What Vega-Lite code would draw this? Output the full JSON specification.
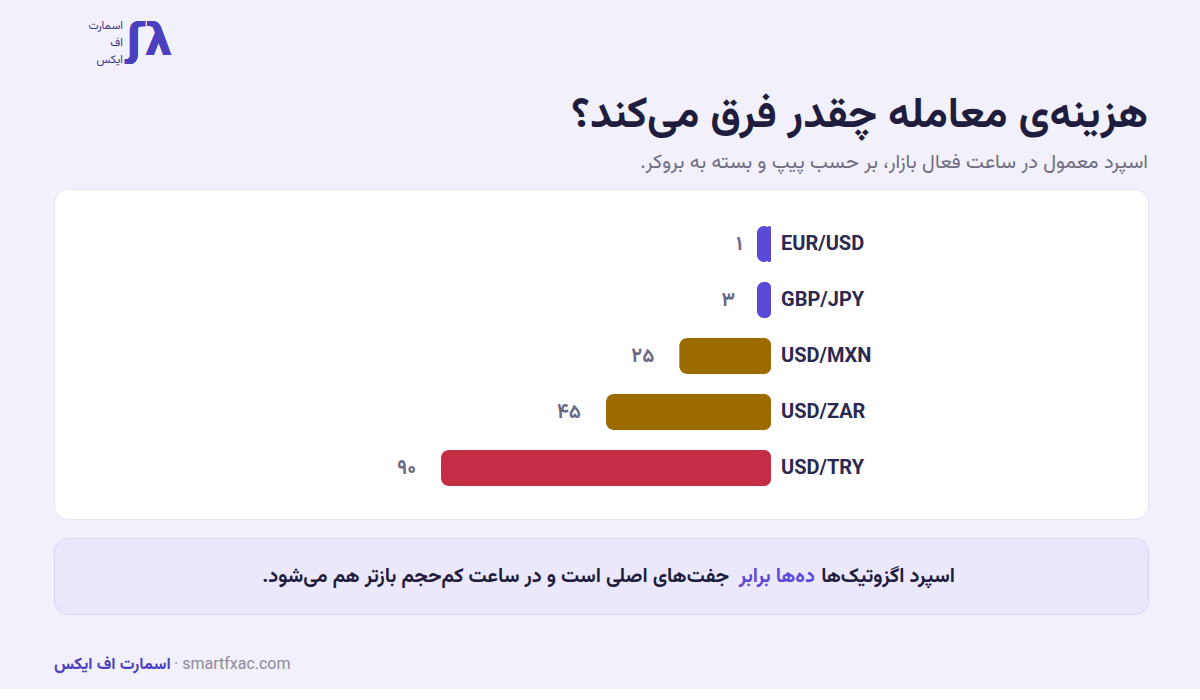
{
  "$schema": "https://vega.github.io/schema/vega-lite/v6.json",
  "background": "#f2f0fb",
  "padding": {"left": 53, "right": 53, "top": 18, "bottom": 0},
  "config": {"view": {"stroke": null}, "font": "Roboto", "concat": {"spacing": 24}},
  "datasets": {
    "spreads": [
      {"pair": "EUR/USD", "pips": 1, "label": "۱", "group": "major"},
      {"pair": "GBP/JPY", "pips": 3, "label": "۳", "group": "major"},
      {"pair": "USD/MXN", "pips": 25, "label": "۲۵", "group": "exotic"},
      {"pair": "USD/ZAR", "pips": 45, "label": "۴۵", "group": "exotic"},
      {"pair": "USD/TRY", "pips": 90, "label": "۹۰", "group": "extreme"}
    ],
    "callout": [
      {"part": "lead", "text": "اسپرد اگزوتیک‌ها"},
      {"part": "highlight", "text": "ده‌ها برابر"},
      {"part": "rest", "text": "جفت‌های اصلی است و در ساعت کم‌حجم بازتر هم می‌شود.\u200f"}
    ],
    "footer": [
      {"part": "brand", "text": "اسمارت اف ایکس"},
      {"part": "site", "text": "· smartfxac.com"}
    ],
    "logo": [
      {"line": "1", "text": "اسمارت"},
      {"line": "2", "text": "اف"},
      {"line": "3", "text": "ایکس"}
    ]
  },
  "vconcat": [
    {
      "width": 1094,
      "height": 50,
      "data": {"name": "logo"},
      "layer": [
        {
          "mark": {"type": "text", "align": "right", "baseline": "middle", "fontSize": 11.5, "color": "#3b3790", "font": "Vazirmatn, 'Noto Sans Arabic', 'DejaVu Sans', sans-serif"},
          "encoding": {
            "x": {"datum": 0.063, "type": "quantitative", "scale": {"domain": [0, 1], "nice": false, "zero": false}, "axis": null},
            "y": {"field": "line", "type": "ordinal", "axis": null, "scale": {"paddingOuter": 0}},
            "text": {"field": "text"}
          }
        },
        {
          "mark": {"type": "text", "align": "left", "baseline": "middle", "fontSize": 44, "fontWeight": "bold", "color": "#4b3fc0", "font": "DejaVu Sans"},
          "encoding": {
            "x": {"datum": 0.066, "type": "quantitative", "scale": {"domain": [0, 1], "nice": false, "zero": false}, "axis": null},
            "y": {"value": 24},
            "text": {"value": "ʃλ"}
          }
        }
      ]
    },
    {
      "vconcat": [
        {
          "width": 1094,
          "height": 330,
          "title": {
            "text": "هزینه‌ی معامله چقدر فرق می‌کند؟",
            "subtitle": "اسپرد معمول در ساعت فعال بازار، بر حسب پیپ و بسته به بروکر.\u200f",
            "anchor": "end",
            "frame": "group",
            "font": "Vazirmatn, 'Noto Sans Arabic', 'DejaVu Sans', sans-serif",
            "subtitleFont": "Vazirmatn, 'Noto Sans Arabic', 'DejaVu Sans', sans-serif",
            "fontSize": 43,
            "fontWeight": "bold",
            "color": "#1f1d3d",
            "subtitleFontSize": 20,
            "subtitleColor": "#6e6c80",
            "subtitlePadding": 16,
            "offset": 17
          },
          "view": {"fill": "white", "stroke": "#e8e5f4", "cornerRadius": 14},
          "data": {"name": "spreads"},
          "encoding": {
            "y": {"field": "pair", "type": "nominal", "sort": null, "axis": null, "scale": {"paddingInner": 0.357, "paddingOuter": 0.625, "align": 0.53}}
          },
          "layer": [
            {
              "mark": {"type": "bar", "cornerRadius": 7},
              "encoding": {
                "x": {"datum": 0, "type": "quantitative", "scale": {"domain": [-102.82, 195.55], "reverse": true, "nice": false, "zero": false}, "axis": null},
                "x2": {"datum": 3.82},
                "color": {"field": "group", "type": "nominal", "scale": {"domain": ["major", "exotic", "extreme"], "range": ["#5b4ad8", "#9b6b00", "#c42d45"]}, "legend": null}
              }
            },
            {
              "mark": {"type": "bar", "cornerRadius": 8},
              "encoding": {
                "x": {"field": "pips", "type": "quantitative", "scale": {"domain": [-102.82, 195.55], "reverse": true, "nice": false, "zero": false}, "axis": null},
                "x2": {"datum": 0},
                "color": {"field": "group", "type": "nominal", "scale": {"domain": ["major", "exotic", "extreme"], "range": ["#5b4ad8", "#9b6b00", "#c42d45"]}, "legend": null}
              }
            },
            {
              "mark": {"type": "text", "align": "left", "baseline": "middle", "dx": 10, "fontSize": 20, "fontWeight": "bold", "color": "#2b2950", "font": "Roboto"},
              "encoding": {
                "x": {"datum": 0, "type": "quantitative"},
                "text": {"field": "pair"}
              }
            },
            {
              "mark": {"type": "text", "align": "right", "baseline": "middle", "dx": -25, "fontSize": 20, "fontWeight": "bold", "color": "#6b6a85", "font": "Vazirmatn, 'Noto Sans Arabic', 'DejaVu Sans', sans-serif"},
              "encoding": {
                "x": {"field": "pips", "type": "quantitative"},
                "text": {"field": "label"}
              }
            }
          ]
        },
        {
          "width": 1094,
          "height": 76,
          "view": {"fill": "#ece8fc", "stroke": "#d9d3f4", "cornerRadius": 14},
          "data": {"name": "callout"},
          "encoding": {
            "x": {"datum": 0.5, "type": "quantitative", "scale": {"domain": [0, 1], "nice": false, "zero": false}, "axis": null},
            "y": {"value": 38},
            "text": {"field": "text"}
          },
          "layer": [
            {
              "transform": [{"filter": "datum.part === 'lead'"}],
              "mark": {"type": "text", "align": "right", "baseline": "middle", "dx": 354, "fontSize": 20, "fontWeight": "bold", "color": "#1f1d3d", "font": "Vazirmatn, 'Noto Sans Arabic', 'DejaVu Sans', sans-serif"}
            },
            {
              "transform": [{"filter": "datum.part === 'highlight'"}],
              "mark": {"type": "text", "align": "right", "baseline": "middle", "dx": 214, "fontSize": 20, "fontWeight": "bold", "color": "#5b48d9", "font": "Vazirmatn, 'Noto Sans Arabic', 'DejaVu Sans', sans-serif"}
            },
            {
              "transform": [{"filter": "datum.part === 'rest'"}],
              "mark": {"type": "text", "align": "right", "baseline": "middle", "dx": 128, "fontSize": 20, "fontWeight": "bold", "color": "#1f1d3d", "font": "Vazirmatn, 'Noto Sans Arabic', 'DejaVu Sans', sans-serif"}
            }
          ]
        }
      ],
      "spacing": 17
    },
    {
      "width": 1094,
      "height": 50,
      "data": {"name": "footer"},
      "encoding": {
        "x": {"datum": 0, "type": "quantitative", "scale": {"domain": [0, 1], "nice": false, "zero": false}, "axis": null},
        "y": {"value": 25},
        "text": {"field": "text"}
      },
      "layer": [
        {
          "transform": [{"filter": "datum.part === 'brand'"}],
          "mark": {"type": "text", "align": "left", "baseline": "middle", "fontSize": 16.5, "fontWeight": "bold", "color": "#4b3fc0", "font": "Vazirmatn, 'Noto Sans Arabic', 'DejaVu Sans', sans-serif"}
        },
        {
          "transform": [{"filter": "datum.part === 'site'"}],
          "mark": {"type": "text", "align": "left", "baseline": "middle", "dx": 120, "fontSize": 16, "color": "#8d8b9e", "font": "Roboto"}
        }
      ]
    }
  ]
}
